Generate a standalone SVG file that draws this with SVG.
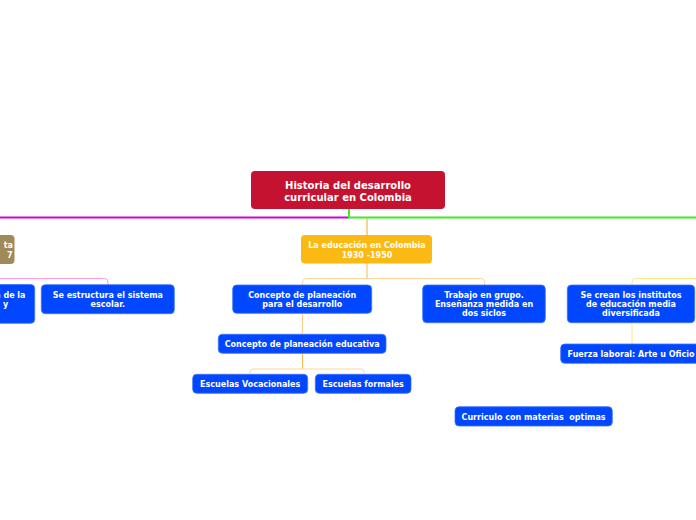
<svg xmlns="http://www.w3.org/2000/svg" width="696" height="520" viewBox="0 0 696 520">
<style>
.t{font-family:"DejaVu Sans",Verdana,sans-serif;font-weight:bold;font-size:8px;fill:#fff;text-anchor:middle}
.rt{font-size:10px}
.b{fill:#0047FF;stroke:#3D73FF;stroke-width:0.8}
.c{fill:none}
</style>
<rect width="696" height="520" fill="#fff"/>
<g id="connectors">
<path class="c" d="M0,217.5 H349" style="stroke:#D400DC;stroke-width:2"/>
<path class="c" d="M349,209 V217.5 H696" style="stroke:#3CEE1C;stroke-width:2"/>
<path class="c" d="M367,218.5 V235" style="stroke:#F5A623;stroke-width:1"/>
<path class="c" d="M367,263 V278.5" style="stroke:#F8B850;stroke-width:1"/>
<path class="c" d="M302.5,285 V282 Q302.5,278.5 306,278.5 H481 Q484.5,278.5 484.5,282 V285" style="stroke:#FDD59A;stroke-width:1"/>
<path class="c" d="M302.5,313 V334" style="stroke:#FDCF8A;stroke-width:1"/>
<path class="c" d="M302.5,353 V369" style="stroke:#F8B850;stroke-width:1"/>
<path class="c" d="M250,374 V372 Q250,369 253,369 H361 Q364,369 364,372 V374" style="stroke:#FDD59A;stroke-width:1"/>
<path class="c" d="M696,278.5 H636 Q632,278.5 632,282 V285" style="stroke:#FFE48A;stroke-width:1"/>
<path class="c" d="M632,323 V344" style="stroke:#FFE48A;stroke-width:1"/>
<path class="c" d="M0,278.5 H104 Q108,278.5 108,282 V285" style="stroke:#FF9ADF;stroke-width:1"/>
</g>
<g id="root">
<rect x="251" y="171" width="194" height="38" rx="4" fill="#C41230"/>
<text class="t rt" x="348" y="188.5">Historia del desarrollo</text>
<text class="t rt" x="348" y="200.5">curricular en Colombia</text>
</g>
<g id="n-educacion">
<rect x="301" y="235" width="131" height="28.5" rx="4" fill="#FDB913"/>
<text class="t" x="367" y="247.5">La educación en Colombia</text>
<text class="t" x="367" y="257.5">1930 -1950</text>
</g>
<g id="n-left-brown">
<rect x="-60" y="235" width="74.5" height="29" rx="4" fill="#A08A5A"/>
<text class="t" x="13" y="247.5" style="text-anchor:end">ta</text>
<text class="t" x="12.5" y="257.5" style="text-anchor:end">7</text>
</g>
<g id="n-left-blue">
<rect class="b" x="-80" y="284.5" width="114.7" height="38.8" rx="4"/>
<text class="t" x="25.5" y="298" style="text-anchor:end">a de la</text>
<text class="t" x="5.5" y="307">y</text>
</g>
<g id="n-estructura">
<rect class="b" x="41.3" y="284.7" width="133" height="29" rx="4"/>
<text class="t" x="107.8" y="298">Se estructura el sistema</text>
<text class="t" x="107.8" y="307">escolar.</text>
</g>
<g id="n-concepto">
<rect class="b" x="232.7" y="285" width="139" height="28.3" rx="4"/>
<text class="t" x="302.2" y="298">Concepto de planeación</text>
<text class="t" x="302.2" y="307">para el desarrollo</text>
</g>
<g id="n-educativa">
<rect class="b" x="218.3" y="334.3" width="167.7" height="19" rx="4"/>
<text class="t" x="302.2" y="347">Concepto de planeación educativa</text>
</g>
<g id="n-vocacionales">
<rect class="b" x="192.7" y="374.3" width="115" height="19" rx="4"/>
<text class="t" x="250.2" y="387">Escuelas Vocacionales</text>
</g>
<g id="n-formales">
<rect class="b" x="315.3" y="374.3" width="95.7" height="19" rx="4"/>
<text class="t" x="363.2" y="387">Escuelas formales</text>
</g>
<g id="n-trabajo">
<rect class="b" x="422.7" y="285" width="122.6" height="37.7" rx="4"/>
<text class="t" x="484" y="298">Trabajo en grupo.</text>
<text class="t" x="484" y="307">Enseñanza medida en</text>
<text class="t" x="484" y="316">dos siclos</text>
</g>
<g id="n-institutos">
<rect class="b" x="567.3" y="285" width="127.4" height="37.7" rx="4"/>
<text class="t" x="631" y="298">Se crean los institutos</text>
<text class="t" x="631" y="307">de educación media</text>
<text class="t" x="631" y="316">diversificada</text>
</g>
<g id="n-fuerza">
<rect class="b" x="560.7" y="344" width="141" height="19.3" rx="4"/>
<text class="t" x="631" y="357">Fuerza laboral: Arte u Oficio</text>
</g>
<g id="n-curriculo">
<rect class="b" x="455" y="406.7" width="157.3" height="19.3" rx="4"/>
<text class="t" x="533.6" y="419.5" xml:space="preserve" style="white-space:pre">Curriculo con materias  optimas</text>
</g>
</svg>
